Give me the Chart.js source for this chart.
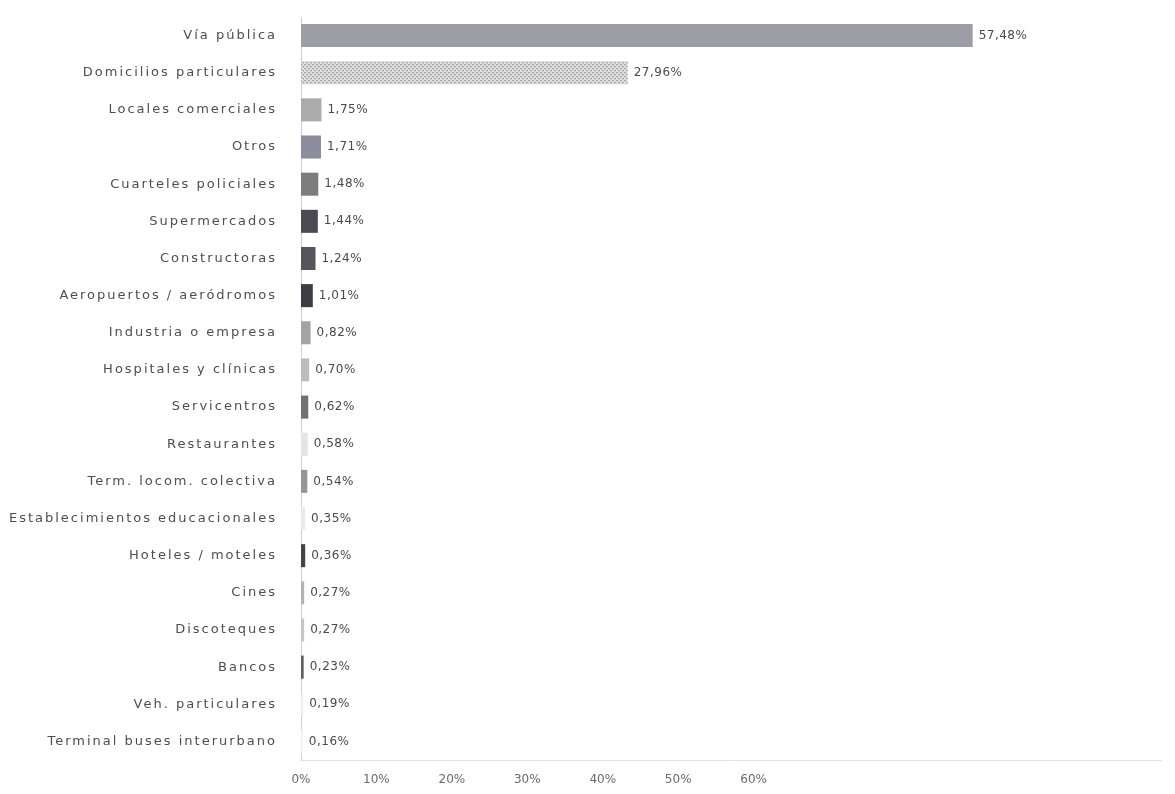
<!DOCTYPE html>
<html>
<head>
<meta charset="utf-8">
<script src="https://cdn.jsdelivr.net/npm/chart.js@4/dist/chart.umd.min.js"></script>
<style>
  body { margin: 0; background: #fff; }
  #wrap { width: 1175px; height: 794px; position: relative; }
</style>
</head>
<body>
<div id="wrap"><canvas id="lugarChart"></canvas></div>
<script>
const categorias = [
    "Vía pública", "Domicilios particulares", "Locales comerciales", "Otros",
    "Cuarteles policiales", "Supermercados", "Constructoras", "Aeropuertos / aeródromos",
    "Industria o empresa", "Hospitales y clínicas", "Servicentros", "Restaurantes",
    "Term. locom. colectiva", "Establecimientos educacionales", "Hoteles / moteles",
    "Cines", "Discoteques", "Bancos", "Veh. particulares", "Terminal buses interurbano"
];
const porcentajes = [
    57.48, 27.96, 1.75, 1.71, 1.48, 1.44, 1.24, 1.01, 0.82, 0.70,
    0.62, 0.58, 0.54, 0.35, 0.36, 0.27, 0.27, 0.23, 0.19, 0.16
];
const colores = [
    "#9d9da6", null, "#ababab", "#8c8c9c", "#7c7c7c", "#4a4a52", "#55555e", "#3c3c44",
    "#a4a4a4", "#bcbcbc", "#727272", "#e4e4e4", "#959595", "#eaeaea", "#444448",
    "#b4b4b4", "#c6c6c6", "#626262", "#efefef", "#f1f1f1"
];
const ticksEje = [0, 10, 20, 30, 40, 50, 60];

const fmt = v => v.toFixed(2).replace(".", ",") + "%";

// dotted pattern for "Domicilios particulares"
function puntos() {
    const c = document.createElement("canvas");
    c.width = 4; c.height = 4;
    const p = c.getContext("2d");
    p.fillStyle = "#dedede";
    p.fillRect(0, 0, 4, 4);
    p.fillStyle = "#a6a6a6";
    p.fillRect(0, 0, 2, 1);
    p.fillRect(2, 2, 2, 1);
    p.fillStyle = "#c4c4c4";
    p.fillRect(1, 1, 1, 1);
    p.fillRect(3, 3, 1, 1);
    return p.createPattern(c, "repeat");
}
colores[1] = puntos();

// value labels at bar ends
const etiquetas = {
    id: "etiquetas",
    afterDatasetsDraw(chart) {
        const ctx = chart.ctx;
        const meta = chart.getDatasetMeta(0);
        ctx.save();
        ctx.letterSpacing = "0.5px";
        ctx.font = "12px 'DejaVu Sans'";
        ctx.fillStyle = "#4a4a4a";
        ctx.textBaseline = "middle";
        meta.data.forEach((bar, i) => {
            ctx.fillText(fmt(porcentajes[i]), bar.x + 6, bar.y);
        });
        ctx.restore();
    }
};

// the scanned category labels are widely spaced and sit away from the axis
function espaciado(s) {
    s.width = 301;
    if (s._espaciado) return;
    s._espaciado = true;
    const orig = s.drawLabels;
    s.drawLabels = function (area) {
        this.ctx.save();
        this.ctx.letterSpacing = "2px";
        this.ctx.translate(-22, 0);
        orig.call(this, area);
        this.ctx.restore();
    };
}

const ctx = document.getElementById("lugarChart").getContext("2d");

new Chart(ctx, {
    type: "bar",
    data: {
        labels: categorias,
        datasets: [{
            data: porcentajes,
            backgroundColor: colores,
            borderWidth: 0,
            barPercentage: 0.62,
            categoryPercentage: 1
        }]
    },
    plugins: [etiquetas],
    options: {
        indexAxis: "y",
        responsive: true,
        maintainAspectRatio: false,
        animation: false,
        layout: { padding: { top: 17, right: 14, bottom: 0, left: 0 } },
        plugins: { legend: { display: false }, tooltip: { enabled: false } },
        scales: {
            x: {
                display: false,
                min: 0,
                max: 73.6
            },
            x2: {
                type: "linear",
                axis: "x",
                position: "bottom",
                min: 0,
                max: 114,
                grid: { display: false, drawTicks: false },
                border: { display: true, color: "#e2e2e2" },
                afterBuildTicks: s => { s.ticks = ticksEje.map(v => ({ value: v })); },
                afterFit: s => { s.height = 34; },
                ticks: {
                    padding: 13,
                    color: "#6a6a6a",
                    font: { family: "'DejaVu Sans'", size: 12 },
                    callback: v => v + "%"
                }
            },
            y: {
                grid: { display: false, drawTicks: false },
                border: { display: true, color: "#cfcfcf" },
                afterFit: espaciado,
                ticks: {
                    padding: 2,
                    color: "#4e4e4e",
                    autoSkip: false,
                    font: { family: "'DejaVu Sans'", size: 13 }
                }
            }
        }
    }
});
</script>
</body>
</html>
